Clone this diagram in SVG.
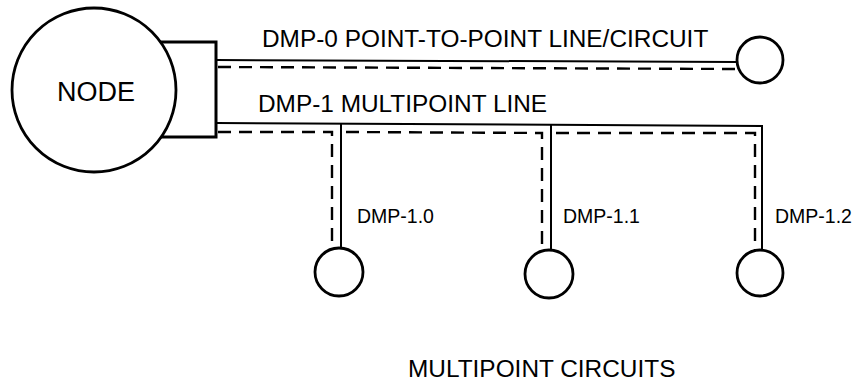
<svg xmlns="http://www.w3.org/2000/svg" width="857" height="391" viewBox="0 0 857 391">
<style>
.bg{fill:#fff}
.sh{fill:#fff;stroke:#000;stroke-width:2.8}
.box{fill:#fff;stroke:#000;stroke-width:3}
.sol{fill:none;stroke:#000;stroke-width:2}
.dsh{fill:none;stroke:#000;stroke-width:2.4;stroke-dasharray:13 8}
text{font-family:"Liberation Sans",Arial,sans-serif;fill:#000}
.lbl{font-size:24.4px}
.sm{font-size:19.5px}
</style>
<rect class="bg" x="0" y="0" width="857" height="391"/>
<g id="connectors">
  <path class="sol" d="M216 60 L737 62"/>
  <path class="dsh" d="M218 67 L736 69"/>
  <path class="sol" d="M216 123 L762 126 L762 250"/>
  <path class="sol" d="M341 124 L341 248"/>
  <path class="sol" d="M551 125 L551 250"/>
  <path class="dsh" d="M218 132 L332 132 L332 248"/>
  <path class="dsh" d="M346 132 L542 133 L542 250"/>
  <path class="dsh" d="M556 133 L755 133 L755 250"/>
</g>
<g id="node">
  <rect class="box" x="150" y="42" width="66" height="95"/>
  <circle class="sh" cx="94" cy="90" r="82"/>
  <text x="96" y="101" font-size="27" text-anchor="middle">NODE</text>
</g>
<g id="dmp0">
  <circle class="sh" cx="760" cy="60" r="23"/>
</g>
<g id="dmp10">
  <circle class="sh" cx="339" cy="272" r="24"/>
</g>
<g id="dmp11">
  <circle class="sh" cx="549" cy="274" r="24"/>
</g>
<g id="dmp12">
  <circle class="sh" cx="760" cy="273" r="23"/>
</g>
<g id="labels">
  <text class="lbl" x="262" y="47">DMP-0 POINT-TO-POINT LINE/CIRCUIT</text>
  <text class="lbl" x="258" y="112">DMP-1 MULTIPOINT LINE</text>
  <text class="sm" x="357" y="223">DMP-1.0</text>
  <text class="sm" x="563" y="223">DMP-1.1</text>
  <text class="sm" x="775" y="223">DMP-1.2</text>
  <text class="lbl" x="408" y="377">MULTIPOINT CIRCUITS</text>
</g>
</svg>
